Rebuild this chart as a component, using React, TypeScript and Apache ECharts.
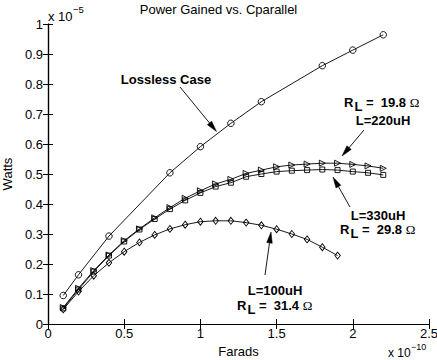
import React, { useEffect, useRef } from "react";
import * as echarts from "echarts";

// x values in units of 1e-10 F, y values in units of 1e-5 W
const capLossless = [0.1, 0.2, 0.4, 0.8, 1.0, 1.2, 1.4, 1.8, 2.0, 2.2];
const powerLossless = [0.095, 0.164, 0.293, 0.504, 0.591, 0.669, 0.741, 0.861, 0.913, 0.964];

const cap220 = [0.1, 0.2, 0.3, 0.4, 0.5, 0.6, 0.7, 0.8, 0.9, 1.0, 1.1, 1.2, 1.3, 1.4, 1.5, 1.6, 1.7, 1.8, 1.9, 2.0, 2.1, 2.2];
const power220 = [0.055, 0.119, 0.178, 0.23, 0.278, 0.317, 0.354, 0.388, 0.419, 0.444, 0.467, 0.482, 0.502, 0.513, 0.524, 0.53, 0.533, 0.536, 0.536, 0.532, 0.527, 0.519];

const cap330 = [0.1, 0.2, 0.3, 0.4, 0.5, 0.6, 0.7, 0.8, 0.9, 1.0, 1.1, 1.2, 1.3, 1.4, 1.5, 1.6, 1.7, 1.8, 1.9, 2.0, 2.1, 2.2];
const power330 = [0.052, 0.115, 0.175, 0.228, 0.275, 0.315, 0.35, 0.383, 0.412, 0.437, 0.458, 0.471, 0.491, 0.5, 0.508, 0.511, 0.513, 0.515, 0.513, 0.508, 0.504, 0.497];

const cap100 = [0.1, 0.2, 0.3, 0.4, 0.5, 0.6, 0.7, 0.8, 0.9, 1.0, 1.1, 1.2, 1.3, 1.4, 1.5, 1.6, 1.7, 1.8, 1.9];
const power100 = [0.049, 0.108, 0.161, 0.204, 0.241, 0.272, 0.297, 0.317, 0.331, 0.341, 0.344, 0.344, 0.338, 0.329, 0.316, 0.3, 0.282, 0.256, 0.228];

const titleText = "Power Gained vs. Cparallel";
const xName = "Farads";
const yName = "Watts";

const FONT = "'Liberation Sans', Arial, Helvetica, sans-serif";

function pairs(xs: number[], ys: number[]) {
  return xs.map((x, i) => [x, ys[i]]);
}

function arrow(x1: number, y1: number, x2: number, y2: number): any[] {
  const dx = x2 - x1;
  const dy = y2 - y1;
  const len = Math.sqrt(dx * dx + dy * dy);
  const ux = dx / len;
  const uy = dy / len;
  const L = 11;
  const W = 2.8;
  const bx = x2 - ux * L;
  const by = y2 - uy * L;
  const px = -uy;
  const py = ux;
  return [
    {
      type: "line",
      silent: true,
      shape: { x1, y1, x2: bx + ux * 2, y2: by + uy * 2 },
      style: { stroke: "#000", lineWidth: 0.9 },
    },
    {
      type: "polygon",
      silent: true,
      shape: {
        points: [
          [x2, y2],
          [bx + px * W, by + py * W],
          [bx - px * W, by - py * W],
        ],
      },
      style: { fill: "#000", stroke: "#000", lineWidth: 0.5 },
    },
  ];
}

function boldText(text: string, x: number, y: number): any {
  return {
    type: "text",
    silent: true,
    x,
    y,
    style: {
      text,
      fill: "#000",
      font: `bold 13px ${FONT}`,
      textAlign: "center",
      textVerticalAlign: "middle",
    },
  };
}

function rlText(value: string, x: number, y: number): any {
  return {
    type: "text",
    silent: true,
    x,
    y,
    style: {
      text: `{r|R}{l|L}{r| =  ${value} }{o|Ω}`,
      fill: "#000",
      textAlign: "left",
      textVerticalAlign: "middle",
      rich: {
        r: { fontSize: 13, fontWeight: "bold", fontFamily: FONT, fill: "#000" },
        l: { fontSize: 13, fontWeight: "bold", fontFamily: FONT, fill: "#000", padding: [9, 0, 0, 1] },
        o: { fontSize: 13, fontFamily: "'Liberation Serif', serif", fill: "#000" },
      },
    },
  };
}

function plainText(text: string, x: number, y: number, size: number): any {
  return {
    type: "text",
    silent: true,
    x,
    y,
    style: {
      text,
      fill: "#000",
      font: `${size}px ${FONT}`,
      textAlign: "left",
      textVerticalAlign: "middle",
    },
  };
}

export default function App() {
  const ref = useRef<HTMLDivElement>(null);

  useEffect(() => {
    if (!ref.current) return;
    const chart = echarts.init(ref.current, undefined, { renderer: "svg" });

    const lineSeries = (data: number[][], symbol: string, size: any, rotate = 0) => ({
      type: "line",
      data,
      symbol,
      symbolSize: size,
      symbolRotate: rotate,
      showSymbol: true,
      showAllSymbol: true,
      lineStyle: { color: "#000", width: 0.9 },
      itemStyle: { color: "none", borderColor: "#000", borderWidth: 0.9 },
      emphasis: { disabled: true },
      silent: true,
      z: 3,
    });

    const axisCommon = {
      type: "value",
      axisLine: { show: true, lineStyle: { color: "#000", width: 1.2 } },
      axisTick: { show: true, inside: true, length: 5, lineStyle: { color: "#000", width: 1 } },
      splitLine: { show: false },
    };

    chart.setOption({
      animation: false,
      backgroundColor: "#fff",
      textStyle: { fontFamily: FONT },
      title: {
        text: titleText,
        left: "center",
        top: 3,
        padding: 0,
        textStyle: { fontSize: 13, fontWeight: "normal", color: "#000", fontFamily: FONT },
      },
      grid: { left: 48, right: 8, top: 24, bottom: 36, containLabel: false, outerBoundsMode: "none" },
      xAxis: [
        {
          ...axisCommon,
          position: "bottom",
          min: 0,
          max: 2.5,
          interval: 0.5,
          name: xName,
          nameLocation: "middle",
          nameGap: 18,
          nameTextStyle: { fontSize: 13, color: "#000", fontFamily: FONT },
          axisLabel: { color: "#000", fontSize: 13, margin: 3, fontFamily: FONT },
        },
        {
          ...axisCommon,
          position: "top",
          min: 0,
          max: 2.5,
          interval: 0.5,
          axisLabel: { show: false },
        },
      ],
      yAxis: [
        {
          ...axisCommon,
          position: "left",
          min: 0,
          max: 1,
          interval: 0.1,
          name: yName,
          nameLocation: "middle",
          nameGap: 23,
          nameTextStyle: { fontSize: 13, color: "#000", fontFamily: FONT },
          axisLabel: { color: "#000", fontSize: 13, margin: 5, fontFamily: FONT },
        },
        {
          ...axisCommon,
          position: "right",
          min: 0,
          max: 1,
          interval: 0.1,
          axisLabel: { show: false },
        },
      ],
      series: [
        lineSeries(pairs(capLossless, powerLossless), "circle", 6.5),
        lineSeries(pairs(cap220, power220), "triangle", [6, 6], -90),
        lineSeries(pairs(cap330, power330), "rect", 5),
        lineSeries(pairs(cap100, power100), "diamond", [5.5, 7]),
      ],
      graphic: [
        plainText("x 10", 48, 16, 13),
        plainText("\u22125", 73, 9, 9.5),
        plainText("x 10", 388, 353, 12),
        plainText("\u221210", 411, 347, 9),
        boldText("Lossless Case", 166, 79),
        ...arrow(180, 87, 216.5, 131.5),
        rlText("19.8", 344, 102),
        boldText("L=220uH", 383, 120),
        ...arrow(364, 130, 342, 156),
        boldText("L=330uH", 378, 215),
        rlText("29.8", 340, 229),
        ...arrow(350, 207, 333, 177),
        boldText("L=100uH", 275, 290),
        rlText("31.4", 237, 305),
        ...arrow(265, 275, 271, 232),
      ],
    });

    return () => chart.dispose();
  }, []);

  return (
    <div
      ref={ref}
      style={{ position: "fixed", left: 0, top: 0, width: 437, height: 360, background: "#fff" }}
    />
  );
}
